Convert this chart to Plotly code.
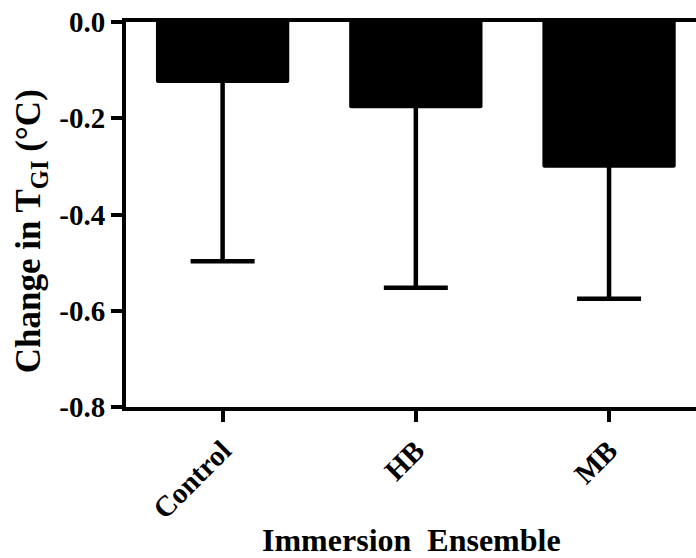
import plotly.graph_objects as go

# Mean change in gastrointestinal temperature per immersion ensemble
groups = ["Control", "HB", "MB"]
mean_change = [-0.127, -0.179, -0.303]
sd_lower = [0.370, 0.373, 0.272]

y_ticks = [0.0, -0.2, -0.4, -0.6, -0.8]
y_tick_text = ["0.0", "-0.2", "-0.4", "-0.6", "-0.8"]

FONT = "Liberation Serif"
# tiny upward arm keeps the unused upper cap hidden inside each black bar
HIDDEN_UPPER = 0.01

fig = go.Figure(
    go.Bar(
        x=groups,
        y=mean_change,
        width=0.69,
        marker=dict(color="black", line=dict(width=0), cornerradius=2),
        error_y=dict(
            type="data",
            symmetric=False,
            array=[HIDDEN_UPPER] * len(groups),
            arrayminus=sd_lower,
            color="black",
            thickness=4.5,
            width=32,
        ),
    )
)

fig.update_layout(
    width=696,
    height=558,
    margin=dict(l=126, r=0, t=22, b=151),
    plot_bgcolor="white",
    paper_bgcolor="white",
    showlegend=False,
    font=dict(family=FONT, color="black", weight="bold"),
    xaxis=dict(
        range=[-0.5, 2.45],
        automargin=False,
        showline=True,
        linecolor="black",
        linewidth=4,
        mirror=True,
        ticks="outside",
        ticklen=11,
        tickwidth=4,
        tickcolor="black",
        tickangle=-45,
        tickfont=dict(family=FONT, size=29, weight="bold"),
        showgrid=False,
    ),
    yaxis=dict(
        range=[-0.8, 0],
        automargin=False,
        tickvals=y_ticks,
        ticktext=y_tick_text,
        showline=True,
        linecolor="black",
        linewidth=4,
        ticks="outside",
        ticklen=11,
        tickwidth=4,
        tickcolor="black",
        tickfont=dict(family=FONT, size=29, weight="bold"),
        showgrid=False,
        zeroline=False,
    ),
    annotations=[
        dict(
            text="Immersion  Ensemble",
            xref="paper", yref="paper",
            x=0.5, y=-0.345,
            xanchor="center", yanchor="middle",
            showarrow=False,
            font=dict(family=FONT, size=32, weight="bold"),
        ),
        dict(
            text="Change in T<sub>GI</sub> (°C)",
            xref="paper", yref="paper",
            x=-0.168, y=0.457,
            xanchor="center", yanchor="middle",
            textangle=-90,
            showarrow=False,
            font=dict(family=FONT, size=35, weight="bold"),
        ),
    ],
)

fig.write_html("out.html")
